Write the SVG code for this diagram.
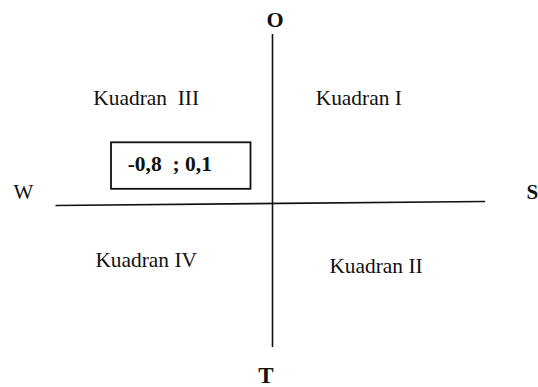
<svg xmlns="http://www.w3.org/2000/svg" width="538" height="387" viewBox="0 0 538 387">
<style>
text{font-family:"Liberation Serif","Times New Roman",serif;fill:#111}
.b{font-weight:bold}
.q{font-size:21.4px}
.ax{stroke:#111;stroke-width:1.6;fill:none}
</style>
<rect width="538" height="387" fill="#fff"/>
<g id="connectors">
<line class="ax" x1="272.5" y1="34" x2="272.5" y2="347"/>
<line class="ax" x1="55.5" y1="205.5" x2="485" y2="201.5"/>
</g>
<g id="north"><text class="b" x="275" y="27" font-size="22" text-anchor="middle">O</text></g>
<g id="south"><text class="b" x="266" y="383" font-size="23" text-anchor="middle">T</text></g>
<g id="west"><text x="13.5" y="198.5" font-size="21">W</text></g>
<g id="east"><text class="b" x="526.5" y="199" font-size="21">S</text></g>
<g id="q3"><text class="q" x="93.3" y="105" xml:space="preserve">Kuadran  III</text></g>
<g id="q1"><text class="q" x="315.7" y="105">Kuadran I</text></g>
<g id="q4"><text class="q" x="95.4" y="267">Kuadran IV</text></g>
<g id="q2"><text class="q" x="329.4" y="272.5">Kuadran II</text></g>
<g id="coord">
<rect x="111" y="142.3" width="139.5" height="46.5" fill="none" stroke="#111" stroke-width="1.8"/>
<text class="b" x="127.7" y="171.2" font-size="21.5" xml:space="preserve">-0,8  ; 0,1</text>
</g>
</svg>
